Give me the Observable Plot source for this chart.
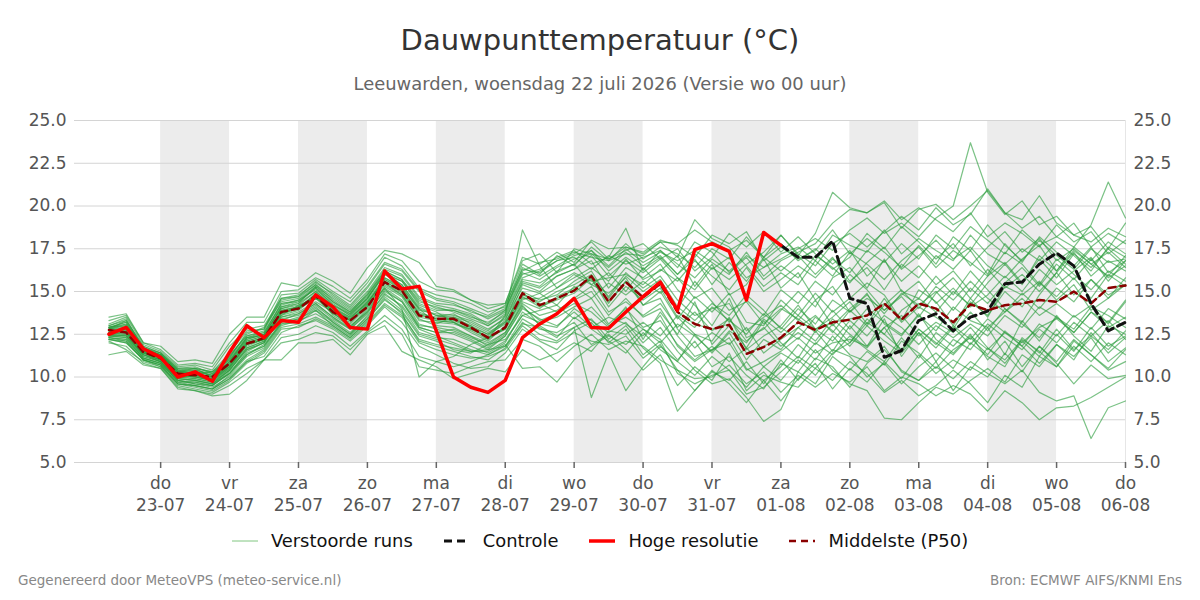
<!DOCTYPE html>
<html><head><meta charset="utf-8">
<script src="https://cdn.jsdelivr.net/npm/d3@7"></script>
<script src="https://cdn.jsdelivr.net/npm/@observablehq/plot@0.6"></script>
<style>
body{margin:0;width:1200px;height:600px;background:#fff;font-family:"DejaVu Sans",sans-serif;position:relative;overflow:hidden}
#title{position:absolute;top:23px;left:0;width:1200px;text-align:center;font-size:29px;color:#333;line-height:34px}
#sub{position:absolute;top:73px;left:0;width:1200px;text-align:center;font-size:17.9px;color:#666;line-height:21px}
#chart{position:absolute;top:100px;left:0}
#legend{position:absolute;top:530px;left:0;width:1200px;display:flex;justify-content:center;gap:31px;font-size:17.9px;color:#111;line-height:22px}
.item{display:flex;align-items:center;gap:13px}
#footl{position:absolute;left:18px;top:572px;font-size:13.5px;color:#888}
#footr{position:absolute;right:18px;top:572px;font-size:13.5px;color:#888}
</style></head>
<body>
<div id="title">Dauwpunttemperatuur (°C)</div>
<div id="sub">Leeuwarden, woensdag 22 juli 2026 (Versie wo 00 uur)</div>
<div id="chart"></div>
<div id="legend">
  <div class="item"><svg width="26" height="12"><line x1="0" y1="6" x2="26" y2="6" stroke="#2ca02c" stroke-opacity="0.6" stroke-width="1"/></svg><span>Verstoorde runs</span></div>
  <div class="item"><svg width="26" height="12"><line x1="0" y1="6" x2="26" y2="6" stroke="#111" stroke-width="3" stroke-dasharray="8,5"/></svg><span>Controle</span></div>
  <div class="item"><svg width="26" height="12"><line x1="0" y1="6" x2="26" y2="6" stroke="#ff0000" stroke-width="3.5"/></svg><span>Hoge resolutie</span></div>
  <div class="item"><svg width="26" height="12"><line x1="0" y1="6" x2="26" y2="6" stroke="#8b0000" stroke-width="2.5" stroke-dasharray="7,5"/></svg><span>Middelste (P50)</span></div>
</div>
<div id="footl">Gegenereerd door MeteoVPS (meteo-service.nl)</div>
<div id="footr">Bron: ECMWF AIFS/KNMI Ens</div>
<script>
// ---- data ----
const startTime = "2026-07-22T06:00Z";
const stepHours = 6;
const domainStart = "2026-07-21T18:00Z";
const domainEnd = "2026-08-06T00:00Z";
const weekdays = ["zo","ma","di","wo","do","vr","za"];
const tickDays = ["2026-07-23","2026-07-24","2026-07-25","2026-07-26","2026-07-27","2026-07-28","2026-07-29","2026-07-30","2026-07-31","2026-08-01","2026-08-02","2026-08-03","2026-08-04","2026-08-05","2026-08-06"];
const shadedDays = ["2026-07-23","2026-07-25","2026-07-27","2026-07-29","2026-07-31","2026-08-02","2026-08-04"];
const yTicks = [5,7.5,10,12.5,15,17.5,20,22.5,25];

const hogeResolutie = [12.5,12.9,11.65,11.15,10.0,10.3,9.75,11.45,13.0,12.3,
 13.3,13.2,14.8,14.1,12.9,12.8,16.2,15.15,15.3,12.7,
 10.0,9.4,9.1,9.8,12.3,13.1,13.7,14.6,12.9,12.85,
 13.8,14.7,15.55,13.9,17.45,17.8,17.35,14.5,18.45,17.7];
// control run is hidden under the high-res run until step 39
const controleStart = 39;
const controle = [17.7,17.0,17.0,17.95,14.6,14.3,11.15,11.55,13.3,13.7,
 12.7,13.5,13.85,15.45,15.55,16.6,17.25,16.5,14.3,12.7,13.2];
const p50 = [12.75,12.6,11.45,11.1,10.2,10.1,10.0,10.8,11.95,12.27,
 13.8,14.0,14.75,13.8,13.3,14.1,15.55,15.05,13.6,13.4,
 13.4,12.9,12.3,12.9,14.9,14.2,14.6,15.05,15.9,14.4,
 15.55,14.65,15.45,13.8,13.1,12.8,13.05,11.35,11.75,12.3,
 13.2,12.75,13.2,13.35,13.6,14.3,13.35,14.3,14.0,13.2,
 14.25,13.9,14.2,14.3,14.5,14.4,15.0,14.3,15.2,15.35];

const members = [
[12.9,13.2,11.6,11.2,10.3,10.4,10.1,11.3,12.4,12.6, 14.2,14.5,15.1,14.3,13.6,14.6,16.0,15.6,14.2,13.8, 13.2,12.6,12.1,13.0,15.4,15.0,15.9,16.3,16.8,15.2, 16.4,15.8,16.6,15.1,14.2,13.0,14.6,12.3,12.8,13.9, 15.0,14.1,15.8,16.4,15.2,16.9,15.0,14.6,15.9,14.8, 16.2,15.1,14.0,13.2,14.8,16.1,17.3,15.9,16.8,16.2],
[12.4,12.3,11.2,10.9,9.9,9.8,9.6,10.2,11.5,12.0, 13.4,13.6,14.2,13.4,12.8,13.7,15.1,14.4,12.9,12.6, 12.8,12.4,11.8,12.5,14.3,13.6,13.9,14.5,15.0,13.6, 14.6,13.5,14.0,12.4,11.2,11.6,12.0,10.4,10.9,11.5, 12.3,11.4,12.0,12.2,11.8,12.9,11.5,12.8,12.0,11.3, 12.4,11.6,12.6,12.0,12.9,13.4,12.6,13.8,12.9,13.5],
[13.1,13.5,11.9,11.5,10.6,10.7,10.4,11.8,12.8,13.0, 14.6,14.7,15.6,14.8,14.1,15.2,16.6,16.2,15.0,14.5, 14.3,13.8,13.5,14.0,16.1,15.7,16.4,16.9,17.2,16.4, 17.3,16.5,17.1,16.0,17.2,16.3,17.0,15.8,16.4,17.2, 17.6,16.8,18.3,17.7,17.3,18.6,17.2,18.1,17.4,16.8, 18.3,17.2,16.6,17.5,16.8,17.9,17.1,16.2,17.6,17.0],
[12.2,12.0,11.0,10.7,9.6,9.5,9.3,9.9,10.9,11.2, 12.6,13.0,13.3,12.8,12.1,13.0,14.1,13.2,11.8,11.3, 10.8,10.5,10.6,11.4,12.8,12.1,11.6,12.7,13.2,12.0, 12.8,11.3,12.1,10.2,9.6,10.1,10.4,9.0,9.4,10.3, 11.2,10.5,11.6,11.2,10.0,10.8,9.6,10.6,11.4,10.5, 12.0,11.2,10.6,12.3,11.4,12.8,11.6,12.4,13.3,12.2],
[12.7,12.9,11.5,11.1,10.1,10.0,9.9,10.6,11.8,12.2, 13.6,14.2,14.6,14.0,13.5,14.3,15.8,15.2,14.0,13.1, 13.5,13.0,12.2,13.6,18.6,16.5,15.2,16.0,15.4,14.9, 15.8,14.2,15.0,13.4,14.7,13.8,14.9,13.2,13.0,14.5, 13.6,14.9,13.8,14.6,15.5,14.8,13.3,15.1,14.4,13.0, 14.6,13.5,15.3,14.8,15.6,14.5,15.4,13.9,14.6,15.8],
[12.5,12.4,11.3,11.0,10.0,9.9,9.7,10.4,11.6,12.0, 13.9,14.1,14.8,13.6,13.0,13.8,15.3,14.7,13.1,12.8, 12.5,12.1,11.6,12.4,14.0,13.4,13.0,13.8,12.9,13.5, 13.1,12.4,13.6,11.8,10.9,11.6,12.3,10.5,9.8,10.6, 11.9,11.0,12.4,11.3,10.9,11.8,10.3,9.8,10.6,9.9, 10.9,10.2,9.6,10.4,9.1,8.6,8.9,6.4,8.2,8.6],
[12.9,13.0,11.7,11.3,10.4,10.2,10.3,11.0,12.2,12.5, 14.0,14.3,15.3,14.6,13.9,14.8,16.2,15.7,14.5,14.0, 13.9,13.6,13.0,13.7,15.8,16.2,16.8,17.0,16.3,17.1, 16.6,17.0,17.4,16.6,15.8,16.9,16.2,17.1,16.4,16.9, 17.5,18.1,17.4,18.6,19.3,18.4,19.0,18.2,19.3,20.0, 23.7,20.8,19.5,20.3,18.9,19.4,18.3,17.9,18.7,18.2],
[12.1,11.6,10.9,10.6,9.5,9.3,9.1,9.7,10.5,11.0, 12.3,12.5,13.0,12.6,11.8,12.7,13.6,12.8,11.2,10.9, 10.6,10.9,11.3,11.8,13.4,12.8,12.6,13.2,11.9,12.5, 11.6,10.4,11.3,9.5,10.6,9.8,11.4,9.2,10.1,9.7, 9.4,10.5,9.8,10.9,10.2,9.1,9.8,8.9,9.5,10.4, 9.6,8.5,10.1,9.4,11.2,10.6,12.1,11.3,10.4,10.9],
[12.8,13.3,11.8,11.4,10.5,10.6,10.2,11.1,12.6,12.8, 14.8,14.9,15.7,15.0,14.4,15.5,17.0,16.5,15.2,14.8, 14.6,14.3,13.8,14.1,16.6,16.0,17.1,16.5,17.6,16.8, 17.8,16.9,17.6,17.2,16.4,17.5,16.9,18.2,17.0,18.3, 17.1,18.4,20.8,19.9,19.6,20.2,18.7,19.8,20.1,19.2, 20.0,20.9,19.6,19.2,20.6,19.0,18.3,18.8,17.5,19.0],
[12.3,12.2,11.1,10.8,9.8,9.6,9.4,10.0,11.0,11.6, 13.0,13.3,13.7,13.1,12.4,13.4,14.5,13.8,12.4,12.1, 11.6,11.4,11.9,12.2,13.6,13.9,14.2,13.4,14.1,13.0, 13.5,12.8,12.2,11.0,12.1,10.6,11.2,10.1,9.3,10.8, 10.3,11.6,10.4,9.6,9.2,7.6,7.5,8.5,9.4,9.0, 9.8,10.5,9.7,11.3,10.6,11.9,11.0,12.6,11.4,12.3],
[12.6,12.7,11.4,11.0,10.2,10.1,9.9,10.7,12.0,12.3, 13.7,14.0,14.9,13.9,13.4,14.4,15.6,15.0,13.7,13.5, 13.7,13.1,12.6,13.2,15.0,14.5,14.8,15.6,16.2,14.6, 15.9,15.0,15.7,14.1,13.3,14.3,13.6,14.8,13.9,12.8, 14.0,13.1,14.5,13.8,14.6,13.9,14.8,15.6,14.3,15.2, 14.1,14.8,15.9,15.0,16.3,15.4,16.2,17.0,15.6,16.8],
[13.0,13.4,11.6,11.3,10.3,10.5,10.0,11.2,12.5,12.9, 14.4,14.6,15.4,14.5,13.8,14.9,16.3,15.9,14.6,14.2, 14.0,13.7,13.1,13.9,16.2,16.7,16.9,17.3,17.0,16.8, 17.2,17.1,17.9,17.0,19.2,18.1,17.6,16.5,15.3,16.1, 15.4,16.8,15.9,17.3,16.6,15.7,16.8,17.6,16.4,17.4, 16.7,15.9,17.3,16.6,15.4,16.9,16.0,15.1,16.2,15.6],
[12.4,12.5,11.3,10.9,9.7,9.7,9.5,10.3,11.4,11.8, 13.2,13.4,14.0,13.3,12.6,13.5,14.9,14.1,12.6,12.3, 12.2,11.8,11.4,12.0,13.8,13.1,12.9,14.0,13.3,12.6, 13.2,12.0,12.9,11.5,10.4,9.6,9.9,8.8,7.4,8.1, 10.3,9.6,11.2,10.4,11.5,10.7,12.1,11.4,10.5,11.6, 12.3,11.3,12.7,11.8,13.1,12.4,13.6,12.8,14.0,13.4],
[12.7,12.8,11.5,11.2,10.2,10.3,10.1,10.9,12.1,12.4, 14.1,14.3,15.0,14.1,13.5,14.5,15.8,15.3,13.9,13.7, 13.6,13.3,12.8,13.4,15.2,14.9,15.5,16.1,15.6,15.8, 16.0,15.4,16.3,15.6,16.8,15.9,15.1,16.4,15.0,15.7, 16.5,15.8,16.9,16.1,17.4,16.7,17.8,16.9,18.3,17.5, 18.8,18.0,17.2,18.6,17.7,18.2,17.6,18.9,21.4,19.3],
[12.0,11.8,10.8,10.5,9.4,9.2,9.0,9.5,10.2,11.0, 12.0,12.2,12.6,12.4,11.6,12.6,13.3,12.5,10.6,10.4, 10.2,10.6,10.9,11.0,12.2,11.8,10.9,11.8,12.5,11.6, 12.1,11.8,11.0,10.4,9.2,10.3,9.8,10.9,9.6,11.0, 9.8,11.1,10.6,9.4,10.8,11.6,10.4,9.8,10.9,9.2, 10.6,10.0,11.4,10.3,11.8,10.8,9.6,10.7,9.9,10.1],
[12.5,12.6,11.4,11.1,10.1,10.0,9.8,10.5,11.7,12.1, 13.5,13.8,14.4,13.8,12.9,14.0,15.2,14.0,10.0,10.9, 11.2,11.9,12.3,12.8,14.5,14.9,14.2,15.3,14.6,15.5, 14.8,15.6,14.9,15.8,14.6,15.2,13.9,14.4,13.1,14.0, 13.4,12.6,13.9,12.8,14.0,13.2,12.5,13.6,12.7,14.1, 13.3,12.9,13.8,14.6,13.6,14.3,13.5,14.2,13.1,14.4],
[12.6,12.5,11.3,11.0,10.0,9.9,9.7,10.5,11.9,12.2, 13.8,14.0,14.6,13.7,13.2,14.2,15.5,14.8,13.4,13.0, 12.9,12.4,12.0,12.6,14.2,13.0,12.4,12.9,8.8,11.4, 9.2,10.6,11.8,10.9,12.5,11.4,12.6,11.0,12.2,11.6, 12.9,12.1,13.4,12.5,11.7,12.9,13.6,12.4,13.2,12.6, 13.8,12.7,14.0,13.1,12.3,13.5,12.8,14.1,13.6,12.9],
[12.9,13.1,11.7,11.3,10.4,10.4,10.2,11.1,12.3,12.6, 14.3,14.4,15.2,14.4,13.8,14.7,16.1,15.6,14.3,13.9, 13.9,13.5,13.2,13.8,16.0,16.3,17.0,17.4,16.6,17.0, 18.7,16.2,17.4,16.4,17.9,17.3,16.1,17.0,15.7,16.5, 15.8,17.1,16.4,15.5,16.7,17.6,16.3,17.1,18.0,16.9, 17.6,16.5,15.8,16.9,17.7,16.2,17.4,16.6,15.9,17.1],
[12.3,12.1,11.0,10.7,9.7,9.5,9.3,10.1,11.2,11.7, 13.1,13.2,13.9,13.0,12.3,13.3,14.6,13.7,12.1,11.8, 11.5,11.2,11.0,11.7,13.2,12.5,12.1,12.9,13.4,12.2, 13.0,11.7,10.8,8.0,9.2,10.4,9.6,8.5,9.8,8.6, 9.9,10.8,9.3,10.5,9.7,10.9,9.9,11.3,10.2,11.0, 10.4,11.7,10.8,12.1,11.2,12.5,11.5,12.9,11.8,12.4],
[12.8,13.0,11.6,11.2,10.3,10.2,10.0,10.9,12.2,12.5, 14.0,14.2,15.0,14.2,13.6,14.6,16.0,15.4,14.1,13.6, 13.5,13.2,12.7,13.5,15.5,15.2,15.9,16.3,17.1,15.9, 16.8,16.1,16.9,15.8,15.1,16.4,15.7,16.6,17.3,18.3, 17.2,16.5,17.8,18.4,17.6,18.5,19.4,18.6,19.9,18.9, 19.5,21.0,19.6,18.7,19.4,18.2,19.0,17.6,18.4,17.8],
[12.6,12.7,11.4,11.1,10.1,10.0,9.8,10.6,11.9,12.2, 13.6,13.9,14.7,13.7,13.1,14.1,15.4,14.8,13.3,13.2, 13.1,12.8,12.3,12.8,14.7,14.1,14.5,14.9,15.8,14.1, 15.3,14.5,15.2,13.5,12.5,12.1,13.5,11.6,12.4,13.0, 14.2,12.8,13.5,14.4,13.1,14.6,13.2,14.1,13.5,12.8, 14.4,13.6,15.0,14.1,15.5,14.7,15.8,14.6,16.0,15.3],
[13.3,13.6,12.0,11.6,10.7,10.8,10.6,12.0,13.2,13.2, 15.0,15.1,15.8,15.3,14.6,15.7,17.2,16.8,15.6,15.1, 15.0,14.5,14.0,14.3,17.0,16.6,17.3,16.7,18.0,17.5, 17.6,17.3,18.0,17.7,17.0,18.3,17.8,18.5,16.8,17.6, 16.9,17.4,18.6,17.2,18.1,17.3,16.4,17.7,16.6,18.2, 17.4,18.9,17.7,16.8,18.0,17.1,16.3,17.5,16.7,16.9],
[12.2,12.0,11.0,10.6,9.6,9.4,9.2,9.8,10.8,11.4, 12.8,12.9,13.4,12.9,12.2,13.1,14.2,13.5,12.0,11.6, 11.3,11.1,11.2,11.6,13.0,12.2,12.0,12.6,12.1,11.9, 12.4,11.1,11.9,10.4,9.9,10.0,10.7,9.6,10.3,9.1, 10.1,9.4,10.2,9.7,10.6,9.2,10.0,9.6,8.9,9.5, 9.0,8.0,9.2,8.5,7.5,8.2,8.3,8.8,9.4,10.0],
[12.5,12.4,11.3,10.9,9.9,9.8,9.6,10.4,11.7,12.1, 13.3,13.7,14.3,13.5,12.9,13.9,15.2,14.5,13.0,12.9, 12.7,12.3,11.9,12.6,14.4,14.0,14.7,15.2,15.7,14.3, 15.6,14.2,14.6,12.8,11.7,12.6,11.9,12.9,11.4,12.2, 12.9,13.6,12.6,13.9,13.0,14.2,15.1,14.0,15.3,14.5, 15.6,14.6,13.8,14.9,14.0,15.2,14.4,15.7,14.8,15.4],
[12.4,12.3,11.1,10.8,9.8,9.7,9.5,10.2,11.3,11.9, 13.2,13.5,14.1,13.2,12.5,13.6,14.8,14.2,12.8,12.4, 12.0,11.6,11.3,11.9,10.5,10.6,9.7,11.0,11.8,12.4, 11.9,12.8,12.0,13.1,12.4,11.5,12.7,12.0,13.4,12.6, 13.6,12.8,12.1,13.3,12.4,13.6,12.9,11.9,13.0,12.3, 13.1,12.4,13.6,12.9,14.1,13.5,12.6,13.8,13.2,14.5],
[12.9,13.2,11.7,11.4,10.4,10.5,10.3,11.2,12.4,12.7, 14.5,14.7,15.4,14.7,14.0,15.0,16.4,16.0,14.7,14.3, 14.2,13.9,13.4,13.9,16.4,15.9,16.5,17.1,17.4,16.5, 17.5,16.7,17.3,16.8,17.4,16.7,16.0,17.3,15.9,16.8, 17.3,17.8,19.0,19.8,19.6,20.3,19.2,19.9,19.2,18.5, 19.6,18.2,19.0,18.4,17.6,18.9,17.9,18.5,17.2,18.0],
[12.7,12.6,11.5,11.1,10.2,10.1,9.9,10.7,12.0,12.3, 13.9,14.1,14.8,13.8,13.3,14.3,15.7,15.1,13.8,13.4, 13.3,12.9,12.5,13.1,14.8,14.4,15.0,15.4,16.0,14.7, 16.1,15.2,15.9,14.5,13.6,14.0,14.3,12.7,13.5,14.2, 13.3,14.5,13.0,14.0,14.8,13.7,14.9,14.2,15.0,13.9, 15.2,14.3,15.5,16.4,15.3,16.6,15.7,16.9,15.8,16.5],
[11.3,11.5,10.7,10.5,9.3,9.2,8.9,9.0,9.8,11.0, 11.0,12.0,12.0,12.2,11.3,12.5,13.0,11.5,11.0,10.6, 9.9,10.2,10.5,10.3,11.6,11.0,11.4,12.0,11.5,12.7, 12.5,13.2,12.4,13.6,12.9,14.1,13.3,12.5,13.7,12.9, 12.2,13.5,12.7,11.8,13.0,12.1,11.4,12.6,11.7,12.9, 11.9,13.1,12.3,11.6,12.8,12.0,13.2,12.4,11.6,12.7],
[13.5,13.7,12.0,11.8,10.9,11.0,10.8,12.5,13.5,13.5, 15.5,15.3,16.1,15.6,14.9,16.4,17.4,17.2,16.7,15.3, 15.1,14.5,14.2,14.3,16.8,17.2,16.1,17.5,17.2,16.9, 17.6,17.2,17.9,17.8,18.6,17.9,17.4,18.0,17.0,17.8, 16.8,17.5,16.6,17.4,15.9,16.8,15.6,16.5,15.4,16.2, 15.0,16.3,15.2,16.0,15.0,16.1,14.8,15.7,14.6,15.4],
[12.6,12.8,11.5,11.2,10.2,10.1,10.0,10.8,12.1,12.4, 13.8,14.1,14.7,14.0,13.4,14.4,15.7,15.2,13.7,13.3, 13.2,12.8,12.4,13.2,14.9,14.3,13.8,14.6,15.3,13.8, 14.4,13.6,14.3,12.9,13.8,12.7,13.4,12.1,12.9,11.8, 12.6,11.9,13.1,12.0,13.4,12.5,11.6,12.8,11.9,13.0, 12.2,13.4,12.6,11.8,10.8,11.9,11.2,12.3,10.9,11.7],
[12.8,12.9,11.6,11.3,10.3,10.2,10.0,10.9,12.3,12.4, 14.1,14.4,15.2,14.2,13.7,14.6,16.1,15.4,14.0,13.6, 13.4,13.0,12.5,13.3,15.6,15.3,16.2,16.6,15.4,16.1, 15.0,16.4,15.3,14.0,15.6,14.4,13.2,14.5,13.6,15.1, 14.3,15.6,14.8,16.0,15.1,13.9,14.7,13.5,14.9,15.8, 14.6,15.9,16.7,15.5,16.9,15.8,17.2,16.4,17.5,16.6],
[12.3,12.2,11.1,10.8,9.8,9.6,9.5,10.2,11.3,11.8, 13.1,13.4,13.9,13.2,12.5,13.4,14.7,13.9,12.5,12.2, 11.9,11.5,11.5,12.1,13.6,13.2,13.5,14.1,14.6,13.1, 14.0,12.9,13.3,11.9,11.0,11.8,10.9,11.7,10.6,11.4, 10.8,12.0,11.3,12.4,11.6,10.9,12.3,11.1,12.6,11.8, 12.9,11.7,11.0,12.2,11.5,10.6,11.8,10.9,12.0,11.3],
[13.0,13.3,11.8,11.4,10.5,10.5,10.3,11.4,12.7,12.8, 14.6,14.8,15.5,14.9,14.2,15.3,16.7,16.3,15.1,14.6, 14.4,14.0,13.6,14.2,16.3,16.1,16.8,17.2,17.9,16.9, 17.4,17.8,16.9,17.5,16.2,17.0,18.4,17.6,18.5,17.3, 18.2,17.2,16.3,17.0,18.4,17.5,18.8,17.9,16.9,17.8, 16.5,17.6,18.5,17.3,18.1,16.8,17.5,16.6,17.3,16.4],
[12.6,12.6,11.4,11.0,10.1,10.0,9.8,10.6,11.9,12.2, 13.7,14.0,14.6,13.9,13.3,14.2,15.5,14.9,13.5,13.3, 13.2,12.7,12.2,12.9,14.6,14.6,15.2,15.8,16.4,15.6, 16.9,15.7,16.2,17.1,15.3,16.6,14.8,15.4,16.9,15.2, 16.1,14.5,15.3,13.8,14.9,13.1,12.4,13.7,12.2,11.4, 12.5,11.0,12.1,10.6,11.8,10.9,12.2,11.3,10.5,11.6],
[12.2,12.1,11.0,10.7,9.6,9.5,9.3,9.9,10.9,11.5, 12.9,13.1,13.5,13.0,12.3,13.2,14.3,13.6,12.2,11.9, 11.7,11.5,11.6,11.8,13.1,12.9,12.3,13.5,12.8,12.1, 11.4,12.6,11.6,10.9,10.1,11.2,10.4,9.4,10.6,9.8, 11.0,10.1,11.4,12.0,13.2,12.5,13.9,14.6,13.8,15.0, 14.2,15.5,16.6,15.4,17.1,16.2,17.6,16.8,17.9,17.2],
[12.8,13.1,11.6,11.3,10.3,10.3,10.1,11.0,12.3,12.5, 14.3,14.5,15.3,14.4,13.7,14.8,16.2,15.7,14.4,14.1, 13.8,13.4,13.0,13.6,15.7,15.5,16.1,16.6,17.4,16.2, 17.0,16.3,17.0,16.0,16.9,15.4,16.7,15.6,17.0,16.2, 17.1,16.0,17.0,15.6,16.4,15.1,16.6,15.8,17.1,16.3, 17.4,16.0,17.8,16.7,18.2,17.3,16.5,17.6,16.1,16.8],
[12.7,12.7,11.5,11.1,10.2,10.1,9.9,10.8,12.0,12.3, 13.8,14.0,14.8,13.8,13.3,14.1,15.6,15.0,13.6,13.4, 13.4,12.9,12.3,12.9,14.9,14.2,14.6,15.1,15.9,14.4, 15.6,14.7,15.5,13.8,13.1,12.8,13.1,11.4,11.8,12.3, 13.2,12.8,13.2,13.4,13.6,14.3,13.4,14.3,14.0,13.2, 14.3,13.9,14.2,14.3,14.5,14.4,15.0,14.3,15.2,15.4],
[12.4,12.4,11.2,10.9,9.9,9.8,9.6,10.4,11.6,12.0, 13.5,13.7,14.3,13.5,12.8,13.8,15.0,14.4,12.9,12.6, 12.6,12.2,11.7,12.4,14.1,13.3,13.7,14.3,13.8,12.9, 14.1,12.2,13.8,12.5,14.4,11.9,13.0,11.7,13.3,12.0, 11.1,12.7,11.5,13.0,11.8,13.4,11.2,12.6,10.9,12.2, 11.6,12.9,11.3,13.3,12.1,13.6,12.4,11.5,13.0,12.5]
];

// ---- build rows ----
const t0 = new Date(startTime).getTime();
const timeAt = i => new Date(t0 + i * stepHours * 3600e3);
const memberRows = members.flatMap((arr, m) => arr.map((v, i) => ({t: timeAt(i), v, m})));
const p50Rows = p50.map((v, i) => ({t: timeAt(i), v}));
const hresRows = hogeResolutie.map((v, i) => ({t: timeAt(i), v}));
const ctrlRows = controle.map((v, i) => ({t: timeAt(controleStart + i), v}));
const dayStart = d => new Date(d + "T00:00Z");
const dayEnd = d => new Date(dayStart(d).getTime() + 864e5);
const tickDates = tickDays.map(dayStart);
const fmtTick = d => weekdays[d.getUTCDay()] + "\n" + String(d.getUTCDate()).padStart(2,"0") + "-" + String(d.getUTCMonth()+1).padStart(2,"0");

const chart = Plot.plot({
  width: 1200, height: 430,
  marginTop: 20, marginBottom: 68, marginLeft: 74, marginRight: 75,
  style: {fontFamily: "DejaVu Sans, sans-serif", fontSize: "17px", color: "#555", background: "transparent", overflow: "visible"},
  x: {type: "utc", domain: [new Date(domainStart), new Date(domainEnd)]},
  y: {domain: [5, 25]},
  marks: [
    Plot.rect(shadedDays, {x1: dayStart, x2: dayEnd, fill: "#ececec"}),
    Plot.gridY(yTicks, {stroke: "#d4d4d4", strokeOpacity: 1}),
    Plot.ruleX([new Date(domainEnd)], {stroke: "#e6e6e6"}),
    Plot.axisY(yTicks, {anchor: "left", tickSize: 0, tickPadding: 8, tickFormat: d => d.toFixed(1), label: null}),
    Plot.axisY(yTicks, {anchor: "right", tickSize: 0, tickPadding: 8, tickFormat: d => d.toFixed(1), label: null}),
    Plot.axisX(tickDates, {tickSize: 6, tickPadding: 6, tickFormat: fmtTick, label: null, stroke: "#666", strokeWidth: 1.5, lineHeight: 1.24}),
    Plot.line(memberRows, {x: "t", y: "v", z: "m", stroke: "#2a9d3c", strokeOpacity: 0.62, strokeWidth: 1.2}),
    Plot.line(p50Rows, {x: "t", y: "v", stroke: "#8b0000", strokeWidth: 2.5, strokeDasharray: "7,5"}),
    Plot.line(ctrlRows, {x: "t", y: "v", stroke: "#111", strokeWidth: 3, strokeDasharray: "8,5"}),
    Plot.line(hresRows, {x: "t", y: "v", stroke: "#ff0000", strokeWidth: 3.5})
  ]
});
document.getElementById("chart").appendChild(chart);
</script>
</body></html>
